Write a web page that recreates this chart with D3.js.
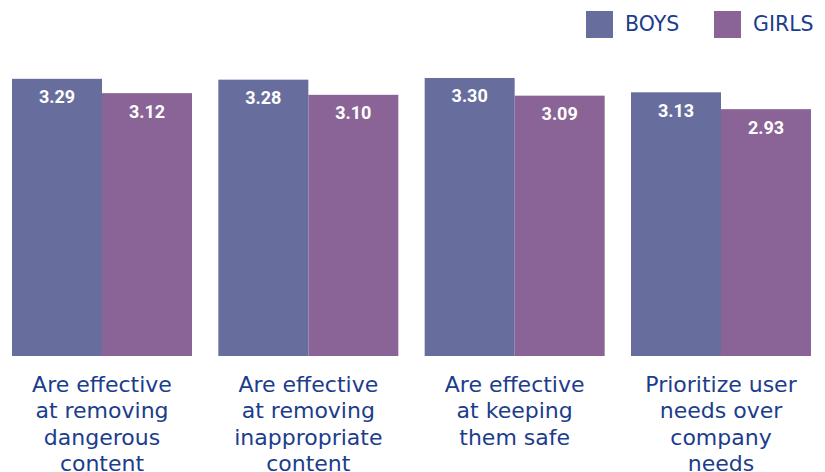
<!DOCTYPE html>
<html><head><meta charset="utf-8">
<script src="https://cdn.jsdelivr.net/npm/d3@7"></script>
<style>body{margin:0;background:#fff}svg{display:block}</style>
</head><body>
<script>
const categories = ["Are effective|at removing|dangerous|content","Are effective|at removing|inappropriate|content","Are effective|at keeping|them safe","Prioritize user|needs over|company|needs"];
const seriesNames = ["BOYS","GIRLS"];
const boys = [3.29, 3.28, 3.30, 3.13];
const girls = [3.12, 3.10, 3.09, 2.93];
const colors = ["#676e9e","#8a6497"];

const W = 825, H = 472;
const svg = d3.select("body").append("svg").attr("width", W).attr("height", H);
const x0 = d3.scaleBand().domain(categories).range([12, 811]).paddingInner(0.1276).paddingOuter(0);
const x1 = d3.scaleBand().domain(seriesNames).range([0, x0.bandwidth()]);
const y = d3.scaleLinear().domain([0, 4]).range([356, 19]);
const color = d3.scaleOrdinal().domain(seriesNames).range(colors);

const data = categories.map((c, i) => ({cat: c, vals: [{s: "BOYS", v: boys[i]}, {s: "GIRLS", v: girls[i]}]}));
const g = svg.selectAll("g.grp").data(data).join("g").attr("transform", d => `translate(${x0(d.cat)},0)`);
g.selectAll("rect").data(d => d.vals).join("rect")
  .attr("x", d => x1(d.s)).attr("width", x1.bandwidth())
  .attr("y", d => y(d.v)).attr("height", d => y(0) - y(d.v))
  .attr("fill", d => color(d.s));
g.selectAll("text.val").data(d => d.vals).join("text").attr("class","val")
  .attr("x", d => x1(d.s) + x1.bandwidth()/2).attr("y", d => y(d.v) + 24.5)
  .attr("text-anchor","middle").attr("fill","#fff")
  .attr("font-family","Roboto, sans-serif").attr("font-weight","bold").attr("font-size","18px")
  .text(d => d.v.toFixed(2));

// category labels
const lab = svg.selectAll("text.cat").data(categories).join("text").attr("class","cat")
  .attr("text-anchor","middle").attr("fill","#1b3d8c")
  .attr("font-family","'DejaVu Sans', sans-serif").attr("font-size","22px");
lab.selectAll("tspan").data(d => d.split("|").map(t => ({t, c: d}))).join("tspan")
  .attr("x", d => x0(d.c) + x0.bandwidth()/2)
  .attr("y", (d, i) => 391.5 + i * 26.5)
  .text(d => d.t);

// legend
const leg = svg.selectAll("g.leg").data(seriesNames).join("g").attr("class","leg")
  .attr("transform", (d, i) => `translate(${[586, 714][i]},11)`);
leg.append("rect").attr("width", 27).attr("height", 27).attr("fill", d => color(d));
leg.append("text").attr("x", 39).attr("y", 19.5).attr("fill","#1b3d8c")
  .attr("font-family","'DejaVu Sans', sans-serif").attr("font-size","20.5px").text(d => d);
</script>
</body></html>
